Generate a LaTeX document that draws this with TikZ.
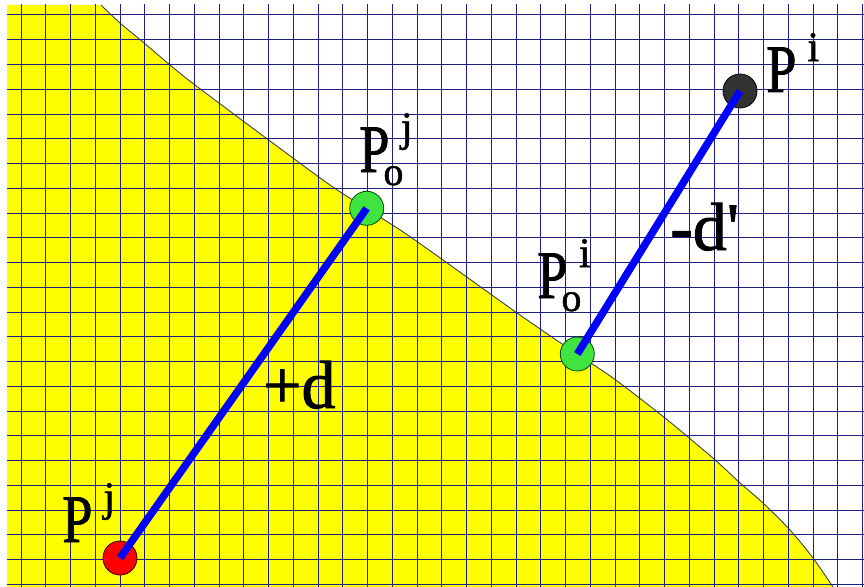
\documentclass[tikz,border=0pt]{standalone}
\usepackage{fontspec}
\newfontfamily\labfont{Liberation Serif}[FakeBold=1.3]
\definecolor{gridc}{RGB}{30,30,135}
\definecolor{yel}{RGB}{255,255,0}
\definecolor{grn}{RGB}{64,228,64}
\definecolor{dark}{RGB}{50,50,50}
\newcommand\bigtxt{\labfont\fontsize{68}{68}\selectfont}
\newcommand\suptxt{\labfont\fontsize{42}{42}\selectfont}
\newcommand\subtxt{\labfont\fontsize{40}{40}\selectfont}
\newcommand\PlabA[1]{\scalebox{0.8}[1]{P}\kern11pt\raisebox{31pt}{\suptxt #1}}
\newcommand\PlabB[2]{\scalebox{0.8}[1]{P}\rlap{\kern-6pt\raisebox{-13pt}{\subtxt #2}}\kern11.5pt\raisebox{31pt}{\suptxt #1}}
\tikzset{
  gridline/.style={gridc, line width=1pt},
  edge/.style={black!75, line width=0.9pt},
  dot/.style={circle, minimum size=34pt, inner sep=0pt, line width=0.8pt},
  seg/.style={blue, line width=7.5pt},
  lab/.style={anchor=base west, inner sep=0pt, font=\bigtxt}
}
\begin{document}
\begin{tikzpicture}[x=1pt,y=-1pt]
\useasboundingbox[fill=white] (0,0) rectangle (864,586);
\begin{scope}
\clip (7,5) rectangle (864,586);
\fill[yel] (7,5) -- plot[smooth, tension=0.5] coordinates {(101,5) (120,23) (143,42) (170,65) (195,85) (270,141) (330,185) (367,209) (412,238) (520,315) (577,354) (613,378) (665,418) (714,459) (739,482) (763,503) (790,530) (813,558) (835,590)} -- (7,590) -- cycle;
\draw[edge] plot[smooth, tension=0.5] coordinates {(101,5) (120,23) (143,42) (170,65) (195,85) (270,141) (330,185) (367,209) (412,238) (520,315) (577,354) (613,378) (665,418) (714,459) (739,482) (763,503) (790,530) (813,558) (835,590)};
\foreach \i in {0,...,34} \draw[gridline] ({21+24.75*\i},0) -- ({21+24.75*\i},590);
\foreach \j in {0,...,23} \draw[gridline] (0,{15+24.75*\j}) -- (870,{15+24.75*\j});
\end{scope}
\node[dot, fill=red, draw=black!80!red] (Pj) at (120,558) {};
\node[dot, fill=grn, draw=black!70!green] (Poj) at (366.7,208.3) {};
\node[dot, fill=grn, draw=black!70!green] (Poi) at (577.3,354) {};
\node[dot, fill=dark, draw=black] (Pi) at (740,91) {};
\draw[seg] (Pj.center) -- (Poj.center);
\draw[seg] (Poi.center) -- (Pi.center);
\node[lab] (lPj) at (62,542) {\PlabA{j}};
\node[lab] (lPi) at (766,92) {\PlabA{i}};
\node[lab] (lPoj) at (359,172) {\PlabB{j}{o}};
\node[lab] (lPoi) at (537,298) {\PlabB{i}{o}};
\node[lab] (lpd) at (263,408) {+d};
\node[lab] (lmd) at (670,250) {-d'};
\end{tikzpicture}
\end{document}
